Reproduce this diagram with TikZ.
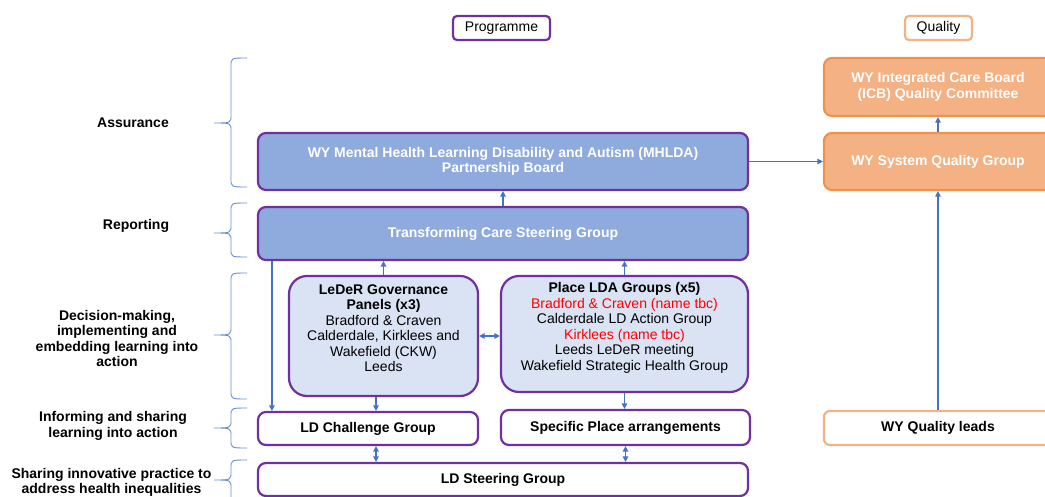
\documentclass[tikz,border=0pt]{standalone}
\usepackage{fontspec}
\setmainfont{Liberation Sans}
\usetikzlibrary{arrows.meta}
\definecolor{purp}{HTML}{7030A0}
\definecolor{bfill}{HTML}{8FAADC}
\definecolor{lbfill}{HTML}{DAE3F3}
\definecolor{ofill}{HTML}{F4B183}
\definecolor{oborder}{HTML}{F0924C}
\definecolor{conn}{HTML}{4472C4}
\definecolor{tred}{HTML}{FF0000}
\newcommand{\mybrc}[3]{%
  \draw[brc] (247,#1) .. controls (231,#1) .. (231,#1+8) -- (231,#3-8)
    .. controls (231,#3) .. (214,#3) .. controls (231,#3) .. (231,#3+8)
    -- (231,#2-8) .. controls (231,#2) .. (247,#2);}
\begin{document}
\begin{tikzpicture}[x=1pt,y=-1pt,
  txt/.style={font=\fontsize{14}{15.5}\selectfont},
  btxt/.style={font=\fontsize{14}{15.5}\selectfont\bfseries},
  pbox/.style={draw=purp, line width=2.2pt, rounded corners=8pt, align=center, inner sep=0pt, fill=white, btxt},
  bluebox/.style={pbox, fill=bfill, text=white},
  lbbox/.style={pbox, fill=lbfill, rounded corners=18pt, txt},
  obox/.style={draw=oborder, line width=2.2pt, rounded corners=8pt, align=center, inner sep=0pt, fill=ofill, text=white, btxt},
  owbox/.style={draw=ofill, line width=2.2pt, rounded corners=6pt, align=center, inner sep=0pt, fill=white, btxt},
  lab/.style={align=center, btxt, inner sep=0pt},
  arr/.style={draw=conn, line width=1.3pt, -{Triangle[length=5.5pt,width=5.5pt]}},
  darr/.style={draw=conn, line width=1.3pt, {Triangle[length=5.5pt,width=5.5pt]}-{Triangle[length=5.5pt,width=5.5pt]}},
  brc/.style={draw=conn!80, line width=0.9pt}
]
\useasboundingbox (0,0) rectangle (1045,496);
\clip (0,0) rectangle (1045,496);
\fill[white] (0,0) rectangle (1045,496);

% header boxes
\node[pbox, txt, rounded corners=4pt, minimum width=97, minimum height=24] (prog) at (501.5,28) {Programme};
\node[owbox, txt, rounded corners=4pt, minimum width=67, minimum height=24] (qual) at (938.5,28) {Quality};

% quality column
\node[obox, minimum width=228, minimum height=58] (icb) at (938,87) {WY Integrated Care Board\\(ICB) Quality Committee};
\node[obox, minimum width=228, minimum height=57] (sqg) at (938,161.5) {WY System Quality Group};
\node[owbox, minimum width=228, minimum height=34] (wql) at (938,428) {WY Quality leads};

% programme column
\node[bluebox, minimum width=490, minimum height=57] (mh) at (503,161.5) {WY Mental Health Learning Disability and Autism (MHLDA)\\Partnership Board};
\node[bluebox, minimum width=490, minimum height=53] (tc) at (503,233.5) {Transforming Care Steering Group};
\node[lbbox, minimum width=189, minimum height=120] (led) at (383.5,336) {\textbf{LeDeR Governance}\\\textbf{Panels (x3)}\\Bradford \& Craven\\Calderdale, Kirklees and\\Wakefield (CKW)\\Leeds\\\mbox{}};
\node[lbbox, minimum width=247, minimum height=116] (pla) at (624.5,334) {\textbf{Place LDA Groups (x5)}\\\textcolor{tred}{Bradford \& Craven (name tbc)}\\Calderdale LD Action Group\\\textcolor{tred}{Kirklees (name tbc)}\\Leeds LeDeR meeting\\Wakefield Strategic Health Group\\\mbox{}};
\node[pbox, minimum width=220, minimum height=33] (ldc) at (368,428.5) {LD Challenge Group};
\node[pbox, minimum width=249, minimum height=35] (spa) at (625.5,427.5) {Specific Place arrangements};
\node[pbox, minimum width=490, minimum height=33] (lds) at (503,479.5) {LD Steering Group};

% connectors
\draw[arr] (sqg.north) -- (icb.south);
\draw[arr] (mh.east) -- (sqg.west);
\draw[arr] (wql.north) -- (sqg.south);
\draw[arr] (tc.north) -- (mh.south);
\draw[arr] (led.north) -- (led.north |- tc.south);
\draw[arr] (pla.north) -- (pla.north |- tc.south);
\draw[darr] (led.east) -- (led.east -| pla.west);
\draw[arr] ([xshift=15pt]tc.south west) -- ([xshift=15pt]ldc.north west);
\draw[arr] ([xshift=-7.5pt]led.south) -- ([xshift=-7.5pt]led.south |- ldc.north);
\draw[arr] (pla.south) -- (pla.south |- spa.north);
\draw[darr] ([xshift=8pt]ldc.south) -- ([xshift=8pt]ldc.south |- lds.north);
\draw[darr] (spa.south) -- (spa.south |- lds.north);

% braces
\mybrc{58}{187}{123}
\mybrc{203}{257}{233}
\mybrc{273}{399}{335}
\mybrc{408}{448}{428}
\mybrc{460}{510}{480}

% left labels
\node[lab] (l1) at (133,123) {Assurance};
\node[lab] (l2) at (136,226) {Reporting};
\node[lab] (l3) at (117,338.5) {Decision-making,\\implementing and\\embedding learning into\\action};
\node[lab] (l4) at (113,426) {Informing and sharing\\learning into action};
\node[lab] (l5) at (111.5,482.5) {Sharing innovative practice to\\address health inequalities};
\end{tikzpicture}
\end{document}
